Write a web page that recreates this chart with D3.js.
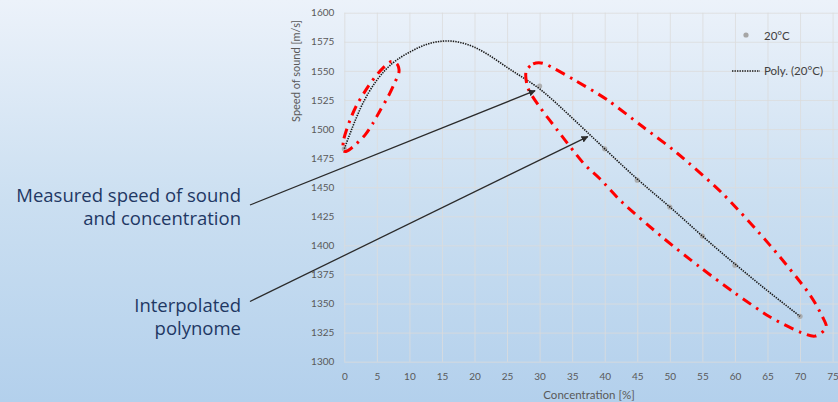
<!DOCTYPE html>
<html>
<head>
<meta charset="utf-8">
<script src="https://cdn.jsdelivr.net/npm/d3@7"></script>
<style>
  html, body { margin: 0; padding: 0; overflow: hidden; }
  svg { display: block; }
</style>
</head>
<body>
<svg id="chart"></svg>
<script>
const W = 838;
const H = 402;

// measured points (concentration %, speed m/s)
const measuredConc = [0, 30, 40, 45, 50, 55, 60, 70];
const measuredSpeed = [1483, 1537, 1483, 1456, 1433, 1408, 1383, 1339];

// trendline
const polyConc = [0, 2.5, 5, 7.5, 10, 12.5, 15, 17.5, 20, 22.5, 25, 27.5, 30, 32.5, 35, 37.5, 40, 45, 50, 55, 60, 65, 70];
const polySpeed = [1483, 1518, 1542, 1557, 1566, 1572.5, 1575.5, 1574.8, 1570.3, 1562.5, 1553, 1544, 1534.5, 1522.5, 1509.5, 1496.3, 1483, 1457, 1433, 1408, 1384, 1361, 1339];

const xTicks = d3.range(0, 76, 5);
const yTicks = d3.range(1300, 1601, 25);

// red annotation loops, in data units
const loopSmall = [[-0.2, 1482], [-0.05, 1492], [0.9, 1508], [1.95, 1521], [3.6, 1536], [5.2, 1548], [7.0, 1557.6], [8.1, 1556], [8.4, 1549],
  [7.6, 1538], [6.7, 1527.5], [5.5, 1516], [4.4, 1505], [3.2, 1495], [1.6, 1486], [0.4, 1481]];
const loopBig = [[27.9, 1549], [29.0, 1556], [30.8, 1556], [35.4, 1542], [40.4, 1525], [45.9, 1501.7], [51.1, 1479.4], [58.2, 1444],
  [65.4, 1400], [71.2, 1360], [73.5, 1338], [74.0, 1329], [72.3, 1322], [70.0, 1325.5], [65.4, 1338.4], [60.0, 1359], [54.6, 1381.4],
  [49.0, 1406.3], [42.8, 1436.4], [39.3, 1457], [36.7, 1470.8], [32.7, 1499.2], [29.8, 1520.6], [28.2, 1535.3]];

// arrow targets (data units)
const arrowTargets = [[29.3, 1533], [37.4, 1493.5]];

const svg = d3.select("#chart")
    .attr("width", W)
    .attr("height", H)
    .attr("font-family", "Lato, 'Open Sans', sans-serif");

// background gradient
const grad = svg.append("defs").append("linearGradient")
    .attr("id", "bg")
    .attr("x1", 0).attr("y1", 0).attr("x2", 0).attr("y2", 1);
grad.append("stop").attr("offset", "0%").attr("stop-color", "#ecf2fa");
grad.append("stop").attr("offset", "50%").attr("stop-color", "#cbdff1");
grad.append("stop").attr("offset", "100%").attr("stop-color", "#b3d0ec");

svg.select("defs").append("marker")
    .attr("id", "head")
    .attr("viewBox", "0 0 10 10")
    .attr("refX", 9).attr("refY", 5)
    .attr("markerWidth", 7).attr("markerHeight", 7)
    .attr("markerUnits", "userSpaceOnUse")
    .attr("orient", "auto")
  .append("path")
    .attr("d", "M0,0L10,5L0,10z")
    .attr("fill", "#2b2b2b");

svg.append("rect").attr("width", W).attr("height", H).attr("fill", "url(#bg)");

const x = d3.scaleLinear().domain([0, 75]).range([344.3, 832.6]);
const y = d3.scaleLinear().domain([1300, 1600]).range([361.7, 12.7]);

// grid
svg.append("g")
    .attr("transform", `translate(0,${y(1300)})`)
    .call(d3.axisBottom(x).tickValues(xTicks).tickSize(-(y(1300) - y(1600))).tickFormat(""))
    .call(g => g.select(".domain").remove())
    .call(g => g.selectAll("line").attr("stroke", "#dcdcdc").attr("stroke-opacity", 0.8));

svg.append("g")
    .attr("transform", `translate(${x(0)},0)`)
    .call(d3.axisLeft(y).tickValues(yTicks).tickSize(-(W - x(0))).tickFormat(""))
    .call(g => g.select(".domain").remove())
    .call(g => g.selectAll("line").attr("stroke", "#dcdcdc").attr("stroke-opacity", 0.8));

// tick labels
svg.append("g")
    .attr("transform", `translate(0,${y(1300)})`)
    .call(d3.axisBottom(x).tickValues(xTicks).tickSize(0).tickPadding(11.5))
    .call(g => g.select(".domain").remove())
    .call(g => g.selectAll("text").attr("fill", "#595959").attr("font-size", 10).attr("font-family", "Lato, sans-serif"));

svg.append("g")
    .attr("transform", `translate(${x(0)},0)`)
    .call(d3.axisLeft(y).tickValues(yTicks).tickSize(0).tickPadding(10).tickFormat(d3.format("d")))
    .call(g => g.select(".domain").remove())
    .call(g => g.selectAll("text").attr("fill", "#595959").attr("font-size", 10).attr("font-family", "Lato, sans-serif"));

// axis titles
svg.append("text")
    .attr("transform", "translate(300,71) rotate(-90)")
    .attr("text-anchor", "middle")
    .attr("font-size", 11)
    .attr("fill", "#595959")
    .text("Speed of sound [m/s]");

svg.append("text")
    .attr("x", 589).attr("y", 399)
    .attr("text-anchor", "middle")
    .attr("font-size", 11.5)
    .attr("fill", "#595959")
    .text("Concentration [%]");

// measured markers
svg.append("g")
    .selectAll("circle")
    .data(measuredConc)
    .join("circle")
    .attr("cx", d => x(d))
    .attr("cy", (d, i) => y(measuredSpeed[i]))
    .attr("r", 2.6)
    .attr("fill", "#a6a6a6")
    .attr("fill-opacity", 0.85);

// polynomial trendline
const line = d3.line()
    .x(d => x(d[0]))
    .y(d => y(d[1]))
    .curve(d3.curveNatural);

svg.append("path")
    .datum(polyConc.map((c, i) => [c, polySpeed[i]]))
    .attr("d", line)
    .attr("fill", "none")
    .attr("stroke", "#1a1a1a")
    .attr("stroke-width", 1.6)
    .attr("stroke-dasharray", "1.4,1.1");

// red loops
const loop = d3.line()
    .x(d => x(d[0]))
    .y(d => y(d[1]))
    .curve(d3.curveCardinalClosed.tension(0.2));

[loopSmall, loopBig].forEach(pts => {
    svg.append("path")
        .attr("d", loop(pts))
        .attr("fill", "none")
        .attr("stroke", "#ff0000")
        .attr("stroke-width", 3)
        .attr("stroke-dasharray", "10,6,2.5,6");
});

// annotation arrows
const arrowStarts = [[250, 205], [250, 301.5]];
arrowTargets.forEach((t, i) => {
    svg.append("line")
        .attr("x1", arrowStarts[i][0]).attr("y1", arrowStarts[i][1])
        .attr("x2", x(t[0])).attr("y2", y(t[1]))
        .attr("stroke", "#2b2b2b")
        .attr("stroke-width", 1.3)
        .attr("marker-end", "url(#head)");
});

// annotation text
const notes = [
    { lines: ["Measured speed of sound", "and concentration"], y: 201.5 },
    { lines: ["Interpolated", "polynome"], y: 311.5 }
];
notes.forEach(n => {
    n.lines.forEach((t, j) => {
        svg.append("text")
            .attr("x", 241)
            .attr("y", n.y + j * 23)
            .attr("text-anchor", "end")
            .attr("font-family", "'Open Sans', sans-serif")
            .attr("font-size", 18.5)
            .attr("fill", "#1f3864")
            .text(t);
    });
});

// legend
svg.append("circle").attr("cx", 746).attr("cy", 35).attr("r", 2.6).attr("fill", "#a6a6a6");
svg.append("text").attr("x", 764).attr("y", 40).attr("font-size", 11.5).attr("fill", "#404040").text("20°C");
svg.append("line")
    .attr("x1", 732).attr("x2", 760).attr("y1", 71).attr("y2", 71)
    .attr("stroke", "#1a1a1a").attr("stroke-width", 1.6).attr("stroke-dasharray", "1.4,1.1");
svg.append("text").attr("x", 764).attr("y", 75).attr("font-size", 11.5).attr("fill", "#404040").text("Poly. (20°C)");
</script>
</body>
</html>
